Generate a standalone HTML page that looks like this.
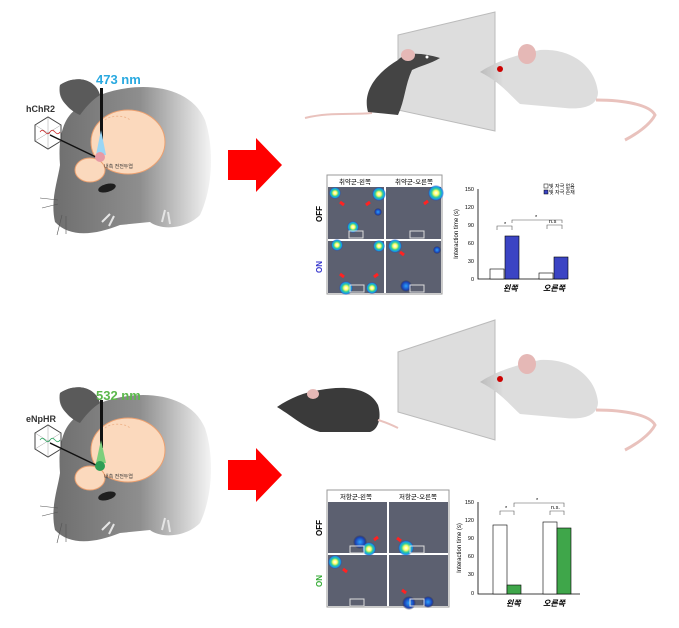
<!DOCTYPE html><html><head><meta charset="utf-8"><style>body{margin:0;background:#fff}svg{display:block}text{font-family:"Liberation Sans","Noto Sans CJK KR",sans-serif}</style></head><body>
<svg width="679" height="628" viewBox="0 0 679 628" xmlns="http://www.w3.org/2000/svg">
<defs>
<linearGradient id="mg" x1="0" x2="1"><stop offset="0" stop-color="#6e6e6e"/><stop offset="0.55" stop-color="#8e8e8e"/><stop offset="1" stop-color="#f4f4f4"/></linearGradient>
<radialGradient id="hot"><stop offset="0" stop-color="#fff"/><stop offset="0.3" stop-color="#ff6"/><stop offset="0.55" stop-color="#3c9"/><stop offset="0.8" stop-color="#19e"/><stop offset="1" stop-color="#22a" stop-opacity="0"/></radialGradient>
<radialGradient id="cool"><stop offset="0" stop-color="#2aa0ff"/><stop offset="0.7" stop-color="#1a3fb0"/><stop offset="1" stop-color="#223" stop-opacity="0"/></radialGradient>
<linearGradient id="wg" x1="0" x2="1"><stop offset="0" stop-color="#bbb"/><stop offset="0.2" stop-color="#ddd"/></linearGradient>
<g id="mouse">
<path d="M60,85 C75,75 95,78 100,95 C140,80 190,85 205,120 C215,150 212,190 200,215 C185,230 160,230 150,222 L120,225 C95,235 70,238 55,222 C50,200 58,180 60,165 C58,140 62,120 75,110 C62,105 58,95 60,85Z" fill="url(#mg)"/>
<path d="M60,85 C75,75 95,78 100,95 C92,100 85,108 80,115 C68,110 58,98 60,85Z" fill="#5a5a5a"/>
<ellipse cx="128" cy="142" rx="37" ry="32" fill="#fbd9bd" stroke="#eba070"/>
<path d="M105,120 C110,115 125,115 130,120" stroke="#f0b890" fill="none" stroke-dasharray="2 2"/>
<ellipse cx="90" cy="170" rx="15" ry="12" fill="#fbd9bd" stroke="#eba070"/>
<ellipse cx="107" cy="188" rx="9" ry="4" fill="#1e1e1e" transform="rotate(-15 107 188)"/>
<path d="M110,214 l-8,8 M114,216 l-5,10 M165,210 l-3,12 M168,212 l2,12" stroke="#e5e5e5" stroke-width="2"/>
<path d="M58,200 l-18,-2 M58,204 l-16,4 M62,215 l-5,20 M66,216 l0,18" stroke="#555" stroke-width="0.6" fill="none"/>
<path d="M35,125 l13,-8 13,8 v16 l-13,8 -13,-8Z" fill="#fff" stroke="#444"/>
<path d="M48,117 v32 M35,125 l26,16 M61,125 l-26,16" stroke="#888" stroke-width="0.4"/>
<path d="M50,135 L98,158" stroke="#111" stroke-width="1.5"/>
</g>
<g id="arrow"><path d="M0,10 h28 v-12 l26,27 -26,27 v-12 h-28z" fill="#f00"/></g>
</defs>
<use href="#mouse"/>
<path d="M40,132 c4,-6 6,6 10,0 c4,-6 6,6 10,0" stroke="#c33" fill="none" stroke-width="0.8"/>
<rect x="100" y="88" width="3" height="52" fill="#111"/>
<path d="M101,130 l-5,25 h10z" fill="#9ad6f5"/>
<circle cx="100" cy="157" r="5" fill="#e79aa5"/>
<text x="96" y="84" font-size="13" font-weight="bold" fill="#29a9e0">473 nm</text>
<text x="26" y="112" font-size="9" font-weight="bold" fill="#333">hChR2</text>
<text x="104" y="168" font-size="5" fill="#333">내측 전전두엽</text>
<g transform="translate(0,308)"><use href="#mouse"/></g>
<path d="M40,440 c4,-6 6,6 10,0 c4,-6 6,6 10,0" stroke="#3a6" fill="none" stroke-width="0.8"/>
<rect x="100" y="400" width="3" height="48" fill="#111"/>
<path d="M101,440 l-5,23 h10z" fill="#7ccf7c"/>
<circle cx="100" cy="466" r="5" fill="#2e9e55"/>
<text x="96" y="400" font-size="13" font-weight="bold" fill="#5cb84c">532 nm</text>
<text x="26" y="422" font-size="9" font-weight="bold" fill="#333">eNpHR</text>
<text x="104" y="478" font-size="5" fill="#333">내측 전전두엽</text>
<use href="#arrow" transform="translate(228,140)"/>
<use href="#arrow" transform="translate(228,450)"/>
<!-- top scene -->
<path d="M398,35 L495,12 L495,131 L398,110Z" fill="#ddd" stroke="#bbb"/>
<path d="M305,118 C330,112 350,115 372,113" stroke="#e9c2bd" stroke-width="2" fill="none"/>
<path d="M368,112 C362,90 378,72 398,60 C405,52 420,52 440,58 C430,64 420,66 412,70 C405,85 405,100 398,115 Z" fill="#444"/>
<ellipse cx="408" cy="55" rx="7" ry="6" fill="#e5b8b6"/>
<circle cx="427" cy="57" r="1.5" fill="#fff"/>
<path d="M480,72 C495,62 515,55 540,50 C570,48 595,65 598,92 C598,105 585,110 565,108 L520,104 C510,95 500,82 480,72Z" fill="url(#wg)"/>
<ellipse cx="527" cy="54" rx="9" ry="10" fill="#e5b8b6"/>
<circle cx="500" cy="69" r="3" fill="#c00"/>
<path d="M596,100 C625,100 650,105 655,115 C650,125 635,135 625,140" stroke="#e9c2bd" stroke-width="3" fill="none"/>
<!-- bottom scene -->
<path d="M398,352 L495,320 L495,440 L398,412Z" fill="#ddd" stroke="#bbb"/>
<path d="M277,407 C290,398 305,392 320,390 C345,385 370,388 378,405 C382,418 378,430 370,432 L320,432 C305,428 295,418 277,407Z" fill="#3a3a3a"/>
<ellipse cx="313" cy="394" rx="6" ry="5" fill="#e5b8b6"/>
<path d="M378,420 C385,422 392,425 398,428" stroke="#e9c2bd" stroke-width="2" fill="none"/>
<path d="M480,382 C495,372 515,365 540,360 C570,358 595,375 598,402 C598,415 585,420 565,418 L520,414 C510,405 500,392 480,382Z" fill="url(#wg)"/>
<ellipse cx="527" cy="364" rx="9" ry="10" fill="#e5b8b6"/>
<circle cx="500" cy="379" r="3" fill="#c00"/>
<path d="M596,410 C625,410 650,415 655,425 C650,435 635,445 625,450" stroke="#e9c2bd" stroke-width="3" fill="none"/>
<!-- top heatmaps -->
<g>
<rect x="327" y="175" width="115" height="119" fill="#fff" stroke="#999"/>
<text x="355" y="184" font-size="6.5" text-anchor="middle">취약군-왼쪽</text>
<text x="414" y="184" font-size="6.5" text-anchor="middle">취약군-오른쪽</text>
<rect x="328" y="187" width="56" height="52" fill="#5c6070"/><rect x="386" y="187" width="55" height="52" fill="#5c6070"/>
<rect x="328" y="241" width="56" height="52" fill="#5c6070"/><rect x="386" y="241" width="55" height="52" fill="#5c6070"/>
<circle cx="335" cy="193" r="6" fill="url(#hot)"/><circle cx="379" cy="194" r="7" fill="url(#hot)"/><circle cx="353" cy="227" r="6" fill="url(#hot)"/>
<circle cx="436" cy="193" r="8" fill="url(#hot)"/><circle cx="395" cy="246" r="7" fill="url(#hot)"/><circle cx="337" cy="245" r="6" fill="url(#hot)"/><circle cx="346" cy="288" r="7" fill="url(#hot)"/><circle cx="372" cy="288" r="6" fill="url(#hot)"/><circle cx="379" cy="246" r="6" fill="url(#hot)"/>
<circle cx="378" cy="212" r="4" fill="url(#cool)"/><circle cx="406" cy="286" r="6" fill="url(#cool)"/><circle cx="437" cy="250" r="4" fill="url(#cool)"/>
<rect x="349" y="231" width="14" height="7" fill="none" stroke="#ddd"/><rect x="410" y="231" width="14" height="7" fill="none" stroke="#ddd"/>
<rect x="350" y="285" width="14" height="7" fill="none" stroke="#ddd"/><rect x="410" y="285" width="14" height="7" fill="none" stroke="#ddd"/>
<path d="M340,202 l4,3 M370,202 l-4,3 M428,201 l-4,3 M340,274 l4,3 M378,274 l-4,3 M400,252 l4,3" stroke="#f22" stroke-width="3"/>
<text x="322" y="214" font-size="8" font-weight="bold" transform="rotate(-90 322 214)" text-anchor="middle">OFF</text>
<text x="322" y="267" font-size="8" font-weight="bold" fill="#33c" transform="rotate(-90 322 267)" text-anchor="middle">ON</text>
</g>
<!-- top chart -->
<g font-size="5.5">
<path d="M478,189 V279 H565" stroke="#000" fill="none" stroke-width="0.8"/>
<text x="474" y="191" text-anchor="end">150</text><text x="474" y="209" text-anchor="end">120</text><text x="474" y="227" text-anchor="end">90</text><text x="474" y="245" text-anchor="end">60</text><text x="474" y="263" text-anchor="end">30</text><text x="474" y="281" text-anchor="end">0</text>
<text x="458" y="234" font-size="6" transform="rotate(-90 458 234)" text-anchor="middle">Interaction time (s)</text>
<rect x="490" y="269" width="14" height="10" fill="#fff" stroke="#000" stroke-width="0.6"/><rect x="505" y="236" width="14" height="43" fill="#3b44c4" stroke="#000" stroke-width="0.6"/>
<rect x="539" y="273" width="14" height="6" fill="#fff" stroke="#000" stroke-width="0.6"/><rect x="554" y="257" width="14" height="22" fill="#3b44c4" stroke="#000" stroke-width="0.6"/>
<path d="M497,230 v-4 h15 v4 M547,229 v-4 h15 v4 M512,223 v-3 h50 v3" stroke="#555" fill="none" stroke-width="0.6"/>
<text x="504" y="226">*</text><text x="535" y="219">*</text><text x="549" y="223">n.s</text>
<text x="503" y="291" font-size="8" font-style="italic" font-weight="bold">왼쪽</text><text x="543" y="291" font-size="8" font-style="italic" font-weight="bold">오른쪽</text>
<rect x="544" y="184" width="4" height="4" fill="#fff" stroke="#000" stroke-width="0.5"/><rect x="544" y="190" width="4" height="4" fill="#3b44c4" stroke="#000" stroke-width="0.5"/>
<text x="549" y="188" font-size="5">빛 자극 없음</text><text x="549" y="194" font-size="5">빛 자극 존재</text>
</g>
<!-- bottom heatmaps -->
<g>
<rect x="327" y="490" width="122" height="117" fill="#fff" stroke="#999"/>
<text x="356" y="499" font-size="6.5" text-anchor="middle">저항군-왼쪽</text>
<text x="418" y="499" font-size="6.5" text-anchor="middle">저항군-오른쪽</text>
<rect x="328" y="502" width="59" height="51" fill="#5c6070"/><rect x="389" y="502" width="59" height="51" fill="#5c6070"/>
<rect x="328" y="555" width="59" height="51" fill="#5c6070"/><rect x="389" y="555" width="59" height="51" fill="#5c6070"/>
<circle cx="360" cy="542" r="7" fill="url(#cool)"/><circle cx="369" cy="549" r="7" fill="url(#hot)"/><circle cx="406" cy="548" r="8" fill="url(#hot)"/>
<circle cx="335" cy="562" r="7" fill="url(#hot)"/><circle cx="409" cy="603" r="7" fill="url(#cool)"/><circle cx="428" cy="602" r="6" fill="url(#cool)"/>
<rect x="350" y="546" width="14" height="7" fill="none" stroke="#ddd"/><rect x="410" y="546" width="14" height="7" fill="none" stroke="#ddd"/>
<rect x="350" y="599" width="14" height="7" fill="none" stroke="#ddd"/><rect x="410" y="599" width="14" height="7" fill="none" stroke="#ddd"/>
<path d="M378,537 l-4,3 M397,538 l4,3 M343,569 l4,3 M402,590 l4,3" stroke="#f22" stroke-width="3"/>
<text x="322" y="528" font-size="8" font-weight="bold" transform="rotate(-90 322 528)" text-anchor="middle">OFF</text>
<text x="322" y="581" font-size="8" font-weight="bold" fill="#3a3" transform="rotate(-90 322 581)" text-anchor="middle">ON</text>
</g>
<!-- bottom chart -->
<g font-size="5.5">
<path d="M478,502 V594 H580" stroke="#000" fill="none" stroke-width="0.8"/>
<text x="474" y="504" text-anchor="end">150</text><text x="474" y="522" text-anchor="end">120</text><text x="474" y="540" text-anchor="end">90</text><text x="474" y="558" text-anchor="end">60</text><text x="474" y="576" text-anchor="end">30</text><text x="474" y="595" text-anchor="end">0</text>
<text x="461" y="548" font-size="6" transform="rotate(-90 461 548)" text-anchor="middle">Interaction time (s)</text>
<rect x="493" y="525" width="14" height="69" fill="#fff" stroke="#000" stroke-width="0.6"/><rect x="507" y="585" width="14" height="9" fill="#3fa64a" stroke="#000" stroke-width="0.6"/>
<rect x="543" y="522" width="14" height="72" fill="#fff" stroke="#000" stroke-width="0.6"/><rect x="557" y="528" width="14" height="66" fill="#3fa64a" stroke="#000" stroke-width="0.6"/>
<path d="M500,515 v-4 h14 v4 M550,515 v-4 h14 v4 M514,507 v-4 h50 v4" stroke="#555" fill="none" stroke-width="0.6"/>
<text x="505" y="510">*</text><text x="536" y="502">*</text><text x="551" y="509">n.s.</text>
<text x="506" y="606" font-size="8" font-style="italic" font-weight="bold">왼쪽</text><text x="543" y="606" font-size="8" font-style="italic" font-weight="bold">오른쪽</text>
</g>
</svg></body></html>
